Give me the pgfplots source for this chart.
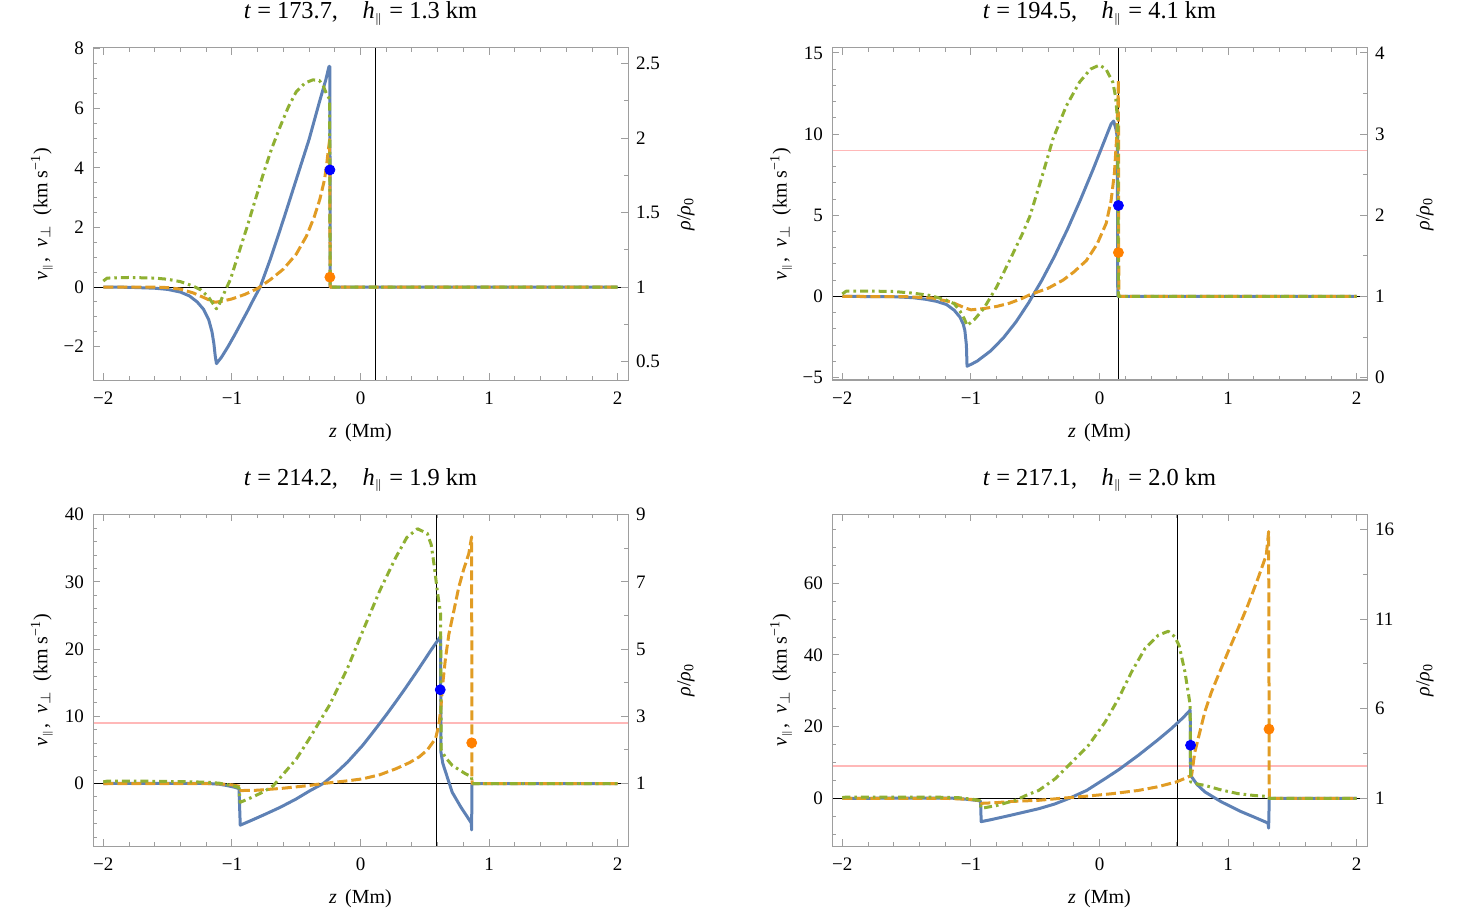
\documentclass[border=0pt]{standalone}
\usepackage{fontspec}
\setmainfont{Liberation Serif}
\usepackage{pgfplots}
\pgfplotsset{compat=1.18}
\definecolor{mblue}{rgb}{0.368417,0.506779,0.709798}
\definecolor{morange}{rgb}{0.880722,0.611041,0.142051}
\definecolor{mgreen}{rgb}{0.560181,0.691569,0.194885}
\definecolor{dotorange}{rgb}{1,0.5,0}
\definecolor{dotblue}{rgb}{0,0,1}
\definecolor{pinkline}{rgb}{1,0.72,0.72}
\definecolor{framegray}{gray}{0.62}
\newcommand{\tickfont}{\fontsize{9.5}{11}\selectfont}
\newcommand{\labfont}{\fontsize{9.7}{11}\selectfont}
\newcommand{\titfont}{\fontsize{12.2}{14}\selectfont}
\newcommand{\ttl}[2]{\textit{t} = #1,\quad \textit{h}$_{\scriptscriptstyle\parallel}$ = #2 km}
\pgfplotsset{
  base/.style={
    scale only axis, width=267.5pt, height=166pt,
    xmin=-2.08, xmax=2.08, anchor=south west,
    axis line style={framegray, line width=0.5pt},
    tick style={framegray, line width=0.45pt},
    tick align=inside,
    major tick length=3.3pt, minor tick length=2pt,
    tick label style={font=\tickfont, black},
    label style={font=\labfont},
  },
  mainax/.style={base,
    xtick={-2,-1,0,1,2}, xticklabels={−2,−1,0,1,2},
    minor x tick num=4,
    xtick pos=both, xticklabel pos=lower,
    ytick pos=left,
    xticklabel style={yshift=-2.2pt},
    yticklabel style={xshift=-1pt},
    xlabel={\textit{z}\ \,(Mm)},
    every axis x label/.style={at={(axis description cs:0.5,0)}, anchor=center, yshift=-26.5pt},
    ylabel={\textit{v}$_{\scriptscriptstyle\parallel}$,\ \ \textit{v}$_{\perp}$\ \ (km s\textsuperscript{−1})},
    every axis y label/.style={at={(axis description cs:0,0.5)}, anchor=center, xshift=-25.5pt, rotate=90},
    every axis title/.style={at={(axis description cs:0.5,1)}, anchor=base, yshift=14.5pt, font=\titfont},
  },
  secax/.style={base,
    xtick=\empty,
    ytick pos=right, yticklabel pos=right,
    yticklabel style={xshift=0.5pt},
    ylabel={\textit{ρ}/\textit{ρ}\textsubscript{0}},
    every axis y label/.style={at={(axis description cs:1,0.5)}, anchor=center, xshift=29pt, rotate=90},
  },
  bl/.style={mblue, line width=1.5pt, line join=round},
  orl/.style={morange, line width=1.5pt, dash pattern=on 5pt off 2pt, line join=round},
  grl/.style={mgreen, line width=1.5pt, dash pattern=on 4pt off 2pt on 1.3pt off 2pt, line join=round},
  axl/.style={black, line width=0.5pt},
  pkl/.style={pinkline, line width=0.6pt},
  dotb/.style={only marks, mark=*, mark size=2.5pt, dotblue},
  doto/.style={only marks, mark=*, mark size=2.5pt, dotorange},
}
\begin{document}
\begin{tikzpicture}
\useasboundingbox (0,0) rectangle (729.5pt,455.5pt);
% ---------------- Panel 1 ----------------
\begin{axis}[mainax, at={(46.5pt,265.5pt)}, ymin=-3.12, ymax=8.02,
  ytick={-2,0,2,4,6,8}, yticklabels={−2,0,2,4,6,8}, minor y tick num=3,
  title={\ttl{173.7}{1.3}}]
\addplot[axl] coordinates {(-2.08,0) (2.08,0)};
\addplot[axl] coordinates {(0.115,-3.12) (0.115,8.02)};
\addplot[bl] coordinates {(-2,0) (-1.8,-0.01) (-1.6,-0.04) (-1.5,-0.08) (-1.4,-0.17) (-1.33,-0.3) (-1.27,-0.5) (-1.22,-0.75) (-1.18,-1.1) (-1.155,-1.5) (-1.14,-1.9) (-1.13,-2.3) (-1.12,-2.57) (-1.08,-2.35) (-1.03,-2.0) (-0.98,-1.62) (-0.93,-1.22) (-0.88,-0.82) (-0.83,-0.4) (-0.78,0) (-0.7,0.95) (-0.6,2.25) (-0.5,3.6) (-0.4,4.95) (-0.32,6.2) (-0.27,6.95) (-0.245,7.4) (-0.238,7.4) (-0.236,0) (2,0)};
\addplot[orl] coordinates {(-2,0) (-1.6,0) (-1.5,-0.02) (-1.4,-0.07) (-1.3,-0.2) (-1.22,-0.35) (-1.16,-0.47) (-1.13,-0.51) (-1.08,-0.48) (-1.0,-0.4) (-0.9,-0.25) (-0.8,-0.05) (-0.7,0.25) (-0.6,0.6) (-0.5,1.1) (-0.42,1.71) (-0.36,2.35) (-0.317,2.93) (-0.28,3.6) (-0.265,4.04) (-0.25,4.6) (-0.24,4.95) (-0.236,0) (2,0)};
\addplot[grl] coordinates {(-2,0.2) (-1.97,0.3) (-1.8,0.32) (-1.6,0.3) (-1.5,0.26) (-1.4,0.18) (-1.3,0.03) (-1.24,-0.1) (-1.18,-0.35) (-1.14,-0.6) (-1.12,-0.73) (-1.1,-0.6) (-1.06,-0.2) (-1.01,0.27) (-0.95,1.1) (-0.88,2.04) (-0.82,2.9) (-0.754,3.82) (-0.69,4.65) (-0.625,5.38) (-0.56,6.05) (-0.5,6.55) (-0.43,6.85) (-0.37,6.95) (-0.32,6.93) (-0.29,6.75) (-0.265,6.49) (-0.24,6.3) (-0.236,0) (2,0)};
\addplot[dotb] coordinates {(-0.238,3.93)};
\addplot[doto] coordinates {(-0.238,0.33)};
\end{axis}
\begin{axis}[secax, at={(46.5pt,265.5pt)}, ymin=0.376, ymax=2.604,
  ytick={0.5,1,1.5,2,2.5}, yticklabels={0.5,1,1.5,2,2.5}, minor y tick num=1]
\end{axis}
% ---------------- Panel 2 ----------------
\begin{axis}[mainax, at={(416pt,265.5pt)}, ymin=-5.15, ymax=15.3,
  ytick={-5,0,5,10,15}, yticklabels={−5,0,5,10,15}, minor y tick num=4,
  title={\ttl{194.5}{4.1}}]
\addplot[pkl] coordinates {(-2.08,9) (2.08,9)};
\addplot[axl] coordinates {(-2.08,0) (2.08,0)};
\addplot[axl] coordinates {(0.147,-5.15) (0.147,15.3)};
\addplot[bl] coordinates {(-2,0) (-1.6,-0.02) (-1.45,-0.08) (-1.35,-0.18) (-1.27,-0.3) (-1.19,-0.5) (-1.13,-0.85) (-1.085,-1.28) (-1.06,-1.7) (-1.047,-2.1) (-1.035,-3.0) (-1.03,-4.3) (-0.99,-4.15) (-0.95,-3.98) (-0.9,-3.68) (-0.85,-3.38) (-0.8,-2.98) (-0.75,-2.58) (-0.7,-2.08) (-0.65,-1.58) (-0.6,-0.98) (-0.55,-0.38) (-0.5,0.3) (-0.45,0.97) (-0.4,1.72) (-0.35,2.47) (-0.3,3.3) (-0.25,4.12) (-0.2,5.02) (-0.15,5.92) (-0.1,6.87) (-0.05,7.82) (0,8.82) (0.05,9.82) (0.09,10.62) (0.11,10.8) (0.128,10.3) (0.138,9.8) (0.142,0) (2,0)};
\addplot[orl] coordinates {(-2,0) (-1.5,-0.02) (-1.3,-0.1) (-1.15,-0.35) (-1.05,-0.7) (-1.0,-0.83) (-0.9,-0.75) (-0.8,-0.62) (-0.7,-0.42) (-0.6,-0.12) (-0.543,0.1) (-0.4,0.5) (-0.284,1.0) (-0.2,1.5) (-0.103,2.2) (-0.02,3.2) (0.052,4.5) (0.09,5.9) (0.116,7.6) (0.135,10.0) (0.143,12.0) (0.147,13.3) (0.15,0) (2,0)};
\addplot[grl] coordinates {(-2,0.15) (-1.97,0.32) (-1.8,0.33) (-1.6,0.3) (-1.45,0.2) (-1.32,0.06) (-1.2,-0.2) (-1.13,-0.45) (-1.085,-0.9) (-1.05,-1.4) (-1.03,-1.8) (-0.97,-1.4) (-0.9,-0.75) (-0.8,0.58) (-0.7,2.2) (-0.6,3.85) (-0.543,4.9) (-0.45,7.3) (-0.362,9.7) (-0.26,11.7) (-0.155,13.2) (-0.07,14.0) (0,14.25) (0.05,14.0) (0.103,13.2) (0.125,12.3) (0.142,10.7) (0.147,0) (2,0)};
\addplot[dotb] coordinates {(0.147,5.6)};
\addplot[doto] coordinates {(0.147,2.7)};
\end{axis}
\begin{axis}[secax, at={(416pt,265.5pt)}, ymin=-0.03, ymax=4.06,
  ytick={0,1,2,3,4}, yticklabels={0,1,2,3,4}, minor y tick num=1]
\end{axis}
% ---------------- Panel 3 ----------------
\begin{axis}[mainax, at={(46.5pt,32.5pt)}, ymin=-9.3, ymax=40.1,
  ytick={0,10,20,30,40}, yticklabels={0,10,20,30,40}, minor y tick num=4,
  extra y ticks={-2,-4,-6,-8}, extra y tick labels={}, extra y tick style={major tick length=2pt},
  title={\ttl{214.2}{1.9}}]
\addplot[pkl] coordinates {(-2.08,9) (2.08,9)};
\addplot[axl] coordinates {(-2.08,0) (2.08,0)};
\addplot[axl] coordinates {(0.59,-9.3) (0.59,40.1)};
\addplot[bl] coordinates {(-2,0) (-1.4,0.02) (-1.2,0.02) (-1.1,-0.1) (-1.04,-0.3) (-0.98,-0.55) (-0.945,-0.75) (-0.935,-6.2) (-0.85,-5.5) (-0.75,-4.65) (-0.625,-3.55) (-0.5,-2.3) (-0.4,-1.15) (-0.29,0) (-0.2,1.4) (-0.1,3.2) (0.018,5.7) (0.1,7.7) (0.2,10.2) (0.276,12.2) (0.35,14.2) (0.45,17.0) (0.55,19.9) (0.623,21.9) (0.625,4.7) (0.64,3.0) (0.662,1.7) (0.713,-1.3) (0.78,-3.5) (0.842,-5.3) (0.862,-5.9) (0.864,-6.9) (0.867,0) (2,0)};
\addplot[orl] coordinates {(-2,0) (-1.3,0) (-1.1,-0.05) (-1.0,-0.2) (-0.945,-0.4) (-0.935,-1.05) (-0.8,-1.0) (-0.6,-0.7) (-0.4,-0.3) (-0.29,0) (-0.1,0.4) (0.018,0.7) (0.15,1.3) (0.276,2.2) (0.38,3.1) (0.456,3.95) (0.52,5.0) (0.584,6.7) (0.61,8.8) (0.625,11.2) (0.636,14.2) (0.66,18.5) (0.687,22.2) (0.726,25.7) (0.764,29.2) (0.803,31.9) (0.842,34.2) (0.864,36.7) (0.867,0) (2,0)};
\addplot[grl] coordinates {(-2,0.25) (-1.97,0.35) (-1.7,0.35) (-1.4,0.28) (-1.2,0.2) (-1.1,0.05) (-1.0,-0.3) (-0.945,-0.6) (-0.935,-2.8) (-0.85,-2.1) (-0.75,-1.2) (-0.677,-0.3) (-0.6,1.4) (-0.497,3.7) (-0.4,6.6) (-0.3,9.8) (-0.24,11.7) (-0.1,17.2) (0.018,22.7) (0.15,28.7) (0.276,33.7) (0.36,36.6) (0.443,37.9) (0.52,37.2) (0.55,35.5) (0.571,32.7) (0.597,28.7) (0.623,25.2) (0.627,5.0) (0.66,3.9) (0.713,2.7) (0.816,1.45) (0.864,1.0) (0.867,0) (2,0)};
\addplot[dotb] coordinates {(0.62,13.95)};
\addplot[doto] coordinates {(0.865,6.05)};
\end{axis}
\begin{axis}[secax, at={(46.5pt,32.5pt)}, ymin=-0.86, ymax=9.02,
  ytick={1,3,5,7,9}, yticklabels={1,3,5,7,9}, minor y tick num=1]
\end{axis}
% ---------------- Panel 4 ----------------
\begin{axis}[mainax, at={(416pt,32.5pt)}, ymin=-13.3, ymax=79.3,
  ytick={0,20,40,60}, yticklabels={0,20,40,60}, minor y tick num=3,
  extra y ticks={-10,-5,65,70,75}, extra y tick labels={}, extra y tick style={major tick length=2pt},
  title={\ttl{217.1}{2.0}}]
\addplot[pkl] coordinates {(-2.08,9) (2.08,9)};
\addplot[axl] coordinates {(-2.08,0) (2.08,0)};
\addplot[axl] coordinates {(0.607,-13.3) (0.607,79.3)};
\addplot[bl] coordinates {(-2,0) (-1.4,0.05) (-1.15,0.05) (-1.05,-0.2) (-0.95,-0.6) (-0.925,-0.8) (-0.92,-6.5) (-0.85,-6.0) (-0.7,-4.8) (-0.473,-2.9) (-0.35,-1.6) (-0.235,0) (-0.1,2.2) (0.044,5.5) (0.15,8.0) (0.302,12.0) (0.45,16.2) (0.56,19.5) (0.65,22.5) (0.705,24.6) (0.708,6.4) (0.76,3.8) (0.819,1.8) (0.948,-1.0) (1.1,-3.7) (1.2,-5.2) (1.31,-6.9) (1.315,-8.3) (1.32,0) (2,0)};
\addplot[orl] coordinates {(-2,0) (-1.2,0) (-1.0,-0.3) (-0.93,-0.6) (-0.92,-1.4) (-0.8,-1.2) (-0.7,-0.9) (-0.473,-0.55) (-0.3,0) (-0.1,0.6) (0.1,1.3) (0.302,2.2) (0.45,3.2) (0.6,4.6) (0.66,5.5) (0.716,6.4) (0.741,12.9) (0.78,18.5) (0.819,24.1) (0.871,29.7) (0.935,35.3) (1.0,40.9) (1.078,47.4) (1.155,54.0) (1.233,61.4) (1.297,67.9) (1.315,74.4) (1.32,0) (2,0)};
\addplot[grl] coordinates {(-2,0.2) (-1.97,0.35) (-1.6,0.35) (-1.3,0.35) (-1.1,0.2) (-0.98,-0.3) (-0.93,-0.6) (-0.92,-2.8) (-0.8,-2.0) (-0.65,-0.5) (-0.56,1.0) (-0.473,2.2) (-0.343,5.5) (-0.214,10.1) (-0.085,14.8) (0.044,21.3) (0.147,27.8) (0.25,35.3) (0.354,41.8) (0.457,45.5) (0.535,46.6) (0.587,45.0) (0.62,42.5) (0.664,35.3) (0.69,29.5) (0.705,26.0) (0.708,4.6) (0.76,4.0) (0.819,3.6) (0.95,2.3) (1.078,1.3) (1.2,0.8) (1.31,0.5) (1.32,0) (2,0)};
\addplot[dotb] coordinates {(0.708,14.8)};
\addplot[doto] coordinates {(1.318,19.3)};
\end{axis}
\begin{axis}[secax, at={(416pt,32.5pt)}, ymin=-1.66, ymax=16.86,
  ytick={1,6,11,16}, yticklabels={1,6,11,16}, minor y tick num=1]
\end{axis}
\end{tikzpicture}
\end{document}
